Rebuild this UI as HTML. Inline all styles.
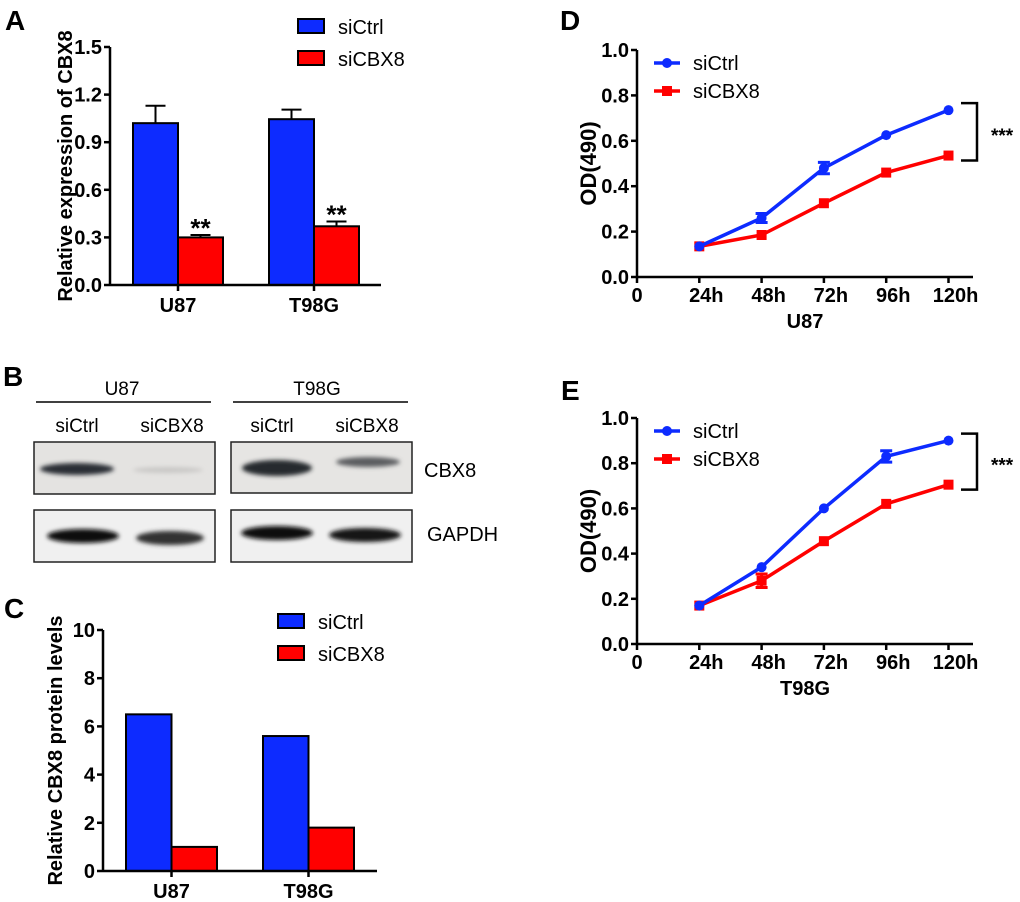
<!DOCTYPE html>
<html><head><meta charset="utf-8"><style>
body{margin:0;background:#fff}
svg{display:block;font-family:"Liberation Sans",Arial,sans-serif}
</style></head><body>
<svg id="fig" width="1020" height="902" viewBox="0 0 1020 902" xmlns="http://www.w3.org/2000/svg">
<defs>
<filter id="blur2"><feGaussianBlur stdDeviation="2.2"/></filter>
</defs>
<g font-weight="bold" font-size="28" fill="#000">
<text x="5" y="30">A</text>
<text x="3" y="386">B</text>
<text x="4" y="618">C</text>
<text x="560" y="30">D</text>
<text x="561" y="400">E</text>
</g>
<g id="blot" font-size="19">
<text x="122" y="395" text-anchor="middle">U87</text>
<text x="317" y="395" text-anchor="middle">T98G</text>
<line x1="36" y1="402" x2="211" y2="402" stroke="#000" stroke-width="1.5"/>
<line x1="233" y1="402" x2="408" y2="402" stroke="#000" stroke-width="1.5"/>
<text x="77" y="432" text-anchor="middle">siCtrl</text>
<text x="172" y="432" text-anchor="middle">siCBX8</text>
<text x="272" y="432" text-anchor="middle">siCtrl</text>
<text x="367" y="432" text-anchor="middle">siCBX8</text>
<rect x="34" y="442" width="181" height="52" fill="#e4e3e1" stroke="#222" stroke-width="1.5"/>
<rect x="231" y="442" width="181" height="51" fill="#e6e5e3" stroke="#222" stroke-width="1.5"/>
<rect x="34" y="510" width="181" height="52" fill="#f0f0f0" stroke="#222" stroke-width="1.5"/>
<rect x="231" y="510" width="181" height="52" fill="#f0f0f0" stroke="#222" stroke-width="1.5"/>
<g filter="url(#blur2)">
<ellipse cx="77" cy="469" rx="37" ry="6" fill="#2a2f35"/>
<ellipse cx="168" cy="470" rx="35" ry="3" fill="#c9c8c6"/>
<ellipse cx="277" cy="468" rx="35" ry="8" fill="#25292e"/>
<ellipse cx="368" cy="462" rx="32" ry="5" fill="#5b5d60"/>
<ellipse cx="83" cy="536" rx="36" ry="7" fill="#111"/>
<ellipse cx="170" cy="538" rx="34" ry="7" fill="#333"/>
<ellipse cx="277" cy="533" rx="36" ry="7" fill="#111"/>
<ellipse cx="365" cy="535" rx="36" ry="7" fill="#151515"/>
</g>
<text x="424" y="477" font-size="20">CBX8</text>
<text x="427" y="541" font-size="20">GAPDH</text>
</g>
<g id="pa"></g><g id="pc"></g><g id="pd"></g><g id="pe"></g>
</svg>
<script>
const barCats = ["U87", "T98G"];
const aCtrl = [1.02, 1.045];
const aCtrlErr = [0.11, 0.06];
const aKd = [0.30, 0.37];
const aKdErr = [0.015, 0.03];
const aTicks = ["0.0", "0.3", "0.6", "0.9", "1.2", "1.5"];
const cCtrl = [6.5, 5.6];
const cKd = [1.0, 1.8];
const cTicks = ["0", "2", "4", "6", "8", "10"];
const timeCats = ["24h", "48h", "72h", "96h", "120h"];
const timeVals = [24, 48, 72, 96, 120];
const dCtrl = [0.135, 0.26, 0.48, 0.625, 0.735];
const dCtrlErr = [0.005, 0.02, 0.025, 0.008, 0.008];
const dKd = [0.135, 0.185, 0.325, 0.46, 0.535];
const dKdErr = [0.005, 0.008, 0.01, 0.008, 0.008];
const eCtrl = [0.17, 0.34, 0.6, 0.83, 0.9];
const eCtrlErr = [0.005, 0.008, 0.008, 0.025, 0.008];
const eKd = [0.17, 0.28, 0.455, 0.62, 0.705];
const eKdErr = [0.005, 0.03, 0.008, 0.01, 0.008];
const lineTicks = ["0.0", "0.2", "0.4", "0.6", "0.8", "1.0"];

const NS = "http://www.w3.org/2000/svg";
function mk(parent, tag, attrs, txt) {
  const e = document.createElementNS(NS, tag);
  for (const k in attrs) e.setAttribute(k, attrs[k]);
  if (txt !== undefined) e.textContent = txt;
  parent.appendChild(e);
  return e;
}
const BLUE = "#0d2bff", RED = "#ff0000";

function barPanel(g, o) {
  const y = v => o.y0 - (v / o.ymax) * (o.y0 - o.y1);
  let e;
  e = mk(g, "line", {x1: o.x0, y1: o.y1, x2: o.x0, y2: o.y0 + 1, stroke: "#000", "stroke-width": 2.5});
  
  
  o.ticks.forEach((t, i) => {
    const v = i * o.ymax / (o.ticks.length - 1);
    const l = mk(g, "line", {x1: o.x0 - 6, y1: y(v), x2: o.x0, y2: y(v), stroke: "#000", "stroke-width": 2.5});
    
    
    const tx = mk(g, "text", {x: o.x0 - 8, y: y(v) + 7, "text-anchor": "end", "font-size": 20, "font-weight": "bold"}, t);
    
    
  });
  barCats.forEach((c, i) => {
    const bx = o.groupX[i];
    const bw = o.bw;
    [[o.ctrl, o.ctrlErr, BLUE, bx, 'ctrl'], [o.kd, o.kdErr, RED, bx + bw, 'kd']].forEach(([arr, err, col, x, nm]) => {
      const v = arr[i];
      if (err) {
        const ey = y(v + err[i]);
        const l1 = mk(g, "line", {x1: x + bw / 2, y1: ey, x2: x + bw / 2, y2: y(v), stroke: "#000", "stroke-width": 2});
        
        
        const l2 = mk(g, "line", {x1: x + bw / 2 - 10, y1: ey, x2: x + bw / 2 + 10, y2: ey, stroke: "#000", "stroke-width": 2});
        
        
      }
      const r = mk(g, "rect", {x: x, y: y(v), width: bw, height: o.y0 - y(v), fill: col, stroke: "#000", "stroke-width": 2});
      
      
      if (o.stars && nm === 'kd') {
        const s = mk(g, "text", {x: x + bw / 2, y: y(v + err[i]) + 2, "text-anchor": "middle", "font-size": 26, "font-weight": "bold"}, "**");
        
        
      }
    });
    const tk = mk(g, "line", {x1: bx + bw, y1: o.y0, x2: bx + bw, y2: o.y0 + 6, stroke: "#000", "stroke-width": 2.5});
    
    
    const lb = mk(g, "text", {x: bx + bw, y: o.y0 + 27, "text-anchor": "middle", "font-size": 20, "font-weight": "bold"}, c);
    
    
  });
  e = mk(g, "line", {x1: o.x0, y1: o.y0, x2: o.xend, y2: o.y0, stroke: "#000", "stroke-width": 2.5});
  
  
  const yt = mk(g, "text", {transform: `translate(${o.titleX},${(o.y0 + o.y1) / 2}) rotate(-90)`, "text-anchor": "middle", "font-size": 20, "font-weight": "bold"}, o.title);
  
  
  [["siCtrl", BLUE, o.legY], ["siCBX8", RED, o.legY + 32]].forEach(([t, col, ly]) => {
    const r = mk(g, "rect", {x: o.legX, y: ly, width: 26, height: 14, fill: col, stroke: "#000", "stroke-width": 2});
    
    
    const tx = mk(g, "text", {x: o.legX + 40, y: ly + 15, "font-size": 20}, t);
    
    
  });
}

barPanel(document.getElementById("pa"), {x0: 110, xend: 381, y0: 285, y1: 47, ymax: 1.5, ticks: aTicks,
  ctrl: aCtrl, ctrlErr: aCtrlErr, kd: aKd, kdErr: aKdErr, groupX: [133, 269], bw: 45, stars: true,
  title: "Relative expression of CBX8", titleX: 72, legX: 298, legY: 19});
barPanel(document.getElementById("pc"), {x0: 103, xend: 377, y0: 871, y1: 630, ymax: 10, ticks: cTicks,
  ctrl: cCtrl, ctrlErr: null, kd: cKd, kdErr: null, groupX: [126, 263], bw: 45.5, stars: false,
  title: "Relative CBX8 protein levels", titleX: 62, legX: 278, legY: 614});

function linePanel(g, o) {
  const y = v => o.y0 - v * (o.y0 - o.y1);
  const x = t => o.x0 + t / 24 * o.step;
  let e;
  e = mk(g, "line", {x1: o.x0, y1: o.y1, x2: o.x0, y2: o.y0 + 1, stroke: "#000", "stroke-width": 2.5});
  
  
  e = mk(g, "line", {x1: o.x0, y1: o.y0, x2: o.xend, y2: o.y0, stroke: "#000", "stroke-width": 2.5});
  
  
  lineTicks.forEach((t, i) => {
    const v = i / (lineTicks.length - 1);
    const l = mk(g, "line", {x1: o.x0 - 6, y1: y(v), x2: o.x0, y2: y(v), stroke: "#000", "stroke-width": 2.5});
    
    
    const tx = mk(g, "text", {x: o.x0 - 8, y: y(v) + 7, "text-anchor": "end", "font-size": 20, "font-weight": "bold"}, t);
    
    
  });
  e = mk(g, "line", {x1: o.x0, y1: o.y0, x2: o.x0, y2: o.y0 + 6, stroke: "#000", "stroke-width": 2.5});
  
  
  e = mk(g, "text", {x: o.x0, y: o.y0 + 25, "text-anchor": "middle", "font-size": 20, "font-weight": "bold"}, "0");
  
  
  timeVals.forEach((t, i) => {
    const l = mk(g, "line", {x1: x(t), y1: o.y0, x2: x(t), y2: o.y0 + 6, stroke: "#000", "stroke-width": 2.5});
    
    
    const tx = mk(g, "text", {x: x(t) + 7, y: o.y0 + 25, "text-anchor": "middle", "font-size": 20, "font-weight": "bold"}, timeCats[i]);
    
    
  });
  e = mk(g, "text", {x: 805, y: o.y0 + 51, "text-anchor": "middle", "font-size": 20, "font-weight": "bold"}, o.xtitle);
  
  
  e = mk(g, "text", {transform: `translate(596,${(o.y0 + o.y1) / 2}) rotate(-90)`, "text-anchor": "middle", "font-size": 22, "font-weight": "bold"}, "OD(490)");
  
  
  [[o.kd, o.kdErr, RED, 'sicbx8-line', false], [o.ctrl, o.ctrlErr, BLUE, 'sictrl-line', true]].forEach(([arr, err, col, nm, circ]) => {
    const pts = arr.map((v, i) => x(timeVals[i]) + "," + y(v)).join(" ");
    const pl = mk(g, "polyline", {points: pts, fill: "none", stroke: col, "stroke-width": 3.5});
    
    
    arr.forEach((v, i) => {
      const cx = x(timeVals[i]);
      if (err[i] > 0.01) {
        const eb = mk(g, "path", {d: `M${cx - 6},${y(v + err[i])}H${cx + 6}M${cx},${y(v + err[i])}V${y(v - err[i])}M${cx - 6},${y(v - err[i])}H${cx + 6}`, stroke: col, "stroke-width": 3, fill: "none"});
        
        
      }
      let m;
      if (circ) m = mk(g, "circle", {cx: cx, cy: y(v), r: 5, fill: col});
      else m = mk(g, "rect", {x: cx - 5, y: y(v) - 5, width: 10, height: 10, fill: col});
      
      
    });
  });
  [["siCtrl", BLUE, o.legY, true], ["siCBX8", RED, o.legY + 28, false]].forEach(([t, col, ly, circ]) => {
    const l = mk(g, "line", {x1: 654, y1: ly, x2: 680, y2: ly, stroke: col, "stroke-width": 3.5});
    
    
    const m = circ ? mk(g, "circle", {cx: 667, cy: ly, r: 5, fill: col}) : mk(g, "rect", {x: 662, y: ly - 5, width: 10, height: 10, fill: col});
    
    
    const tx = mk(g, "text", {x: 693, y: ly + 7, "font-size": 20}, t);
    
    
  });
  const ya = y(o.ctrl[4]) - 7, yb = y(o.kd[4]) + 5;
  e = mk(g, "path", {d: `M961,${ya}H977V${yb}H961`, fill: "none", stroke: "#000", "stroke-width": 2.5});
  
  
  e = mk(g, "text", {x: 991, y: (ya + yb) / 2 + 10, "font-size": 19, "font-weight": "bold"}, "***");
  
  
}
linePanel(document.getElementById("pd"), {x0: 637, xend: 973, y0: 277, y1: 50, step: 62.3,
  ctrl: dCtrl, ctrlErr: dCtrlErr, kd: dKd, kdErr: dKdErr, xtitle: "U87", legY: 63});
linePanel(document.getElementById("pe"), {x0: 637, xend: 973, y0: 644, y1: 418, step: 62.3,
  ctrl: eCtrl, ctrlErr: eCtrlErr, kd: eKd, kdErr: eKdErr, xtitle: "T98G", legY: 431});
</script>
</body></html>
